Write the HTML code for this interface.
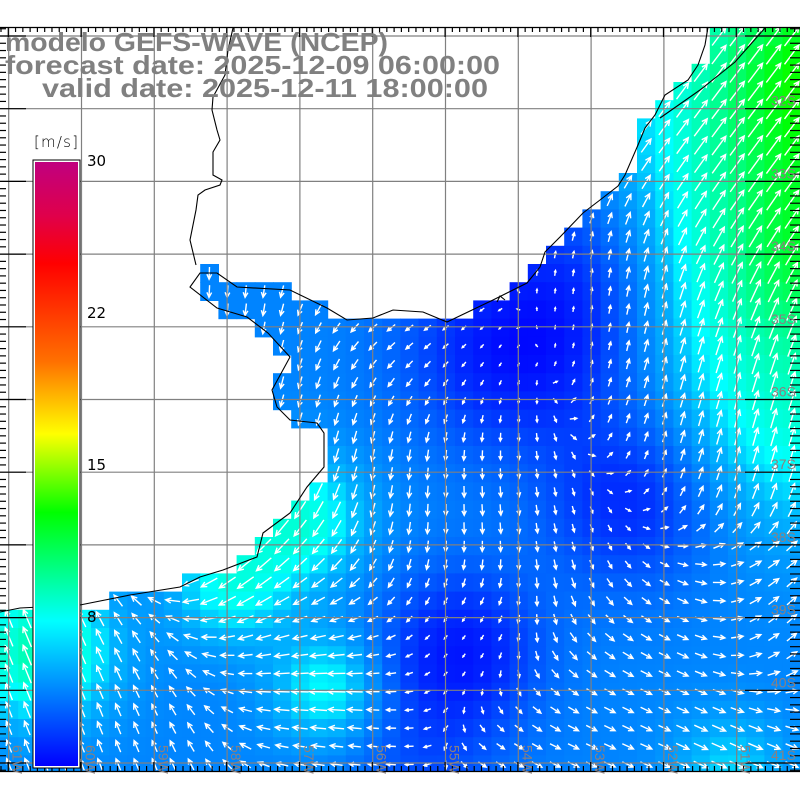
<!DOCTYPE html>
<html><head><meta charset="utf-8"><style>
html,body{margin:0;padding:0;background:#fff;}
svg{display:block;}
</style></head><body>
<svg id="s" width="800" height="800" xmlns="http://www.w3.org/2000/svg">
<defs>
<clipPath id="mc"><rect x="0" y="27" width="800" height="745"/></clipPath>
<linearGradient id="cb" x1="0" y1="0" x2="0" y2="1">
<stop offset="0" stop-color="#c0007f"/>
<stop offset="0.09" stop-color="#e0004a"/>
<stop offset="0.168" stop-color="#ff0000"/>
<stop offset="0.33" stop-color="#ff7000"/>
<stop offset="0.45" stop-color="#ffff00"/>
<stop offset="0.58" stop-color="#00ff00"/>
<stop offset="0.76" stop-color="#00ffff"/>
<stop offset="1" stop-color="#0000ff"/>
</linearGradient>
</defs>
<g id="field" clip-path="url(#mc)"></g>
<g id="arrows" clip-path="url(#mc)" stroke="#fff" stroke-width="1.4" fill="none"></g>
<g id="grid" stroke="#808080" stroke-width="1.2"></g>
<g id="coast" fill="none" stroke="#000" stroke-width="1.1"></g>
<g id="ticks" stroke="#000" stroke-width="1.2"></g>
<g id="labs" font-family="Liberation Sans, sans-serif" font-size="14" fill="#888"></g>
<rect x="33" y="160" width="47" height="608" fill="#fff" stroke="#000" stroke-width="1"/>
<rect x="35" y="162" width="43" height="604" fill="url(#cb)"/>
<g font-family="DejaVu Sans, sans-serif" font-size="15" fill="#000">
<text x="34" y="147" textLength="44" font-weight="200">[m/s]</text>
<text x="87" y="166">30</text>
<text x="87" y="318">22</text>
<text x="87" y="470">15</text>
<text x="87" y="622">8</text>
</g>
<g font-family="Liberation Sans, sans-serif" font-weight="bold" font-size="26" fill="#808080">
<text x="5" y="51" textLength="383" lengthAdjust="spacingAndGlyphs">modelo GEFS-WAVE (NCEP)</text>
<text x="5" y="74" textLength="495" lengthAdjust="spacingAndGlyphs">forecast date: 2025-12-09 06:00:00</text>
<text x="42" y="97" textLength="446" lengthAdjust="spacingAndGlyphs">valid date: 2025-12-11 18:00:00</text>
</g>
</svg>
<script>
(function(){
var NS="http://www.w3.org/2000/svg";
function el(t,a,p){var e=document.createElementNS(NS,t);for(var k in a)e.setAttribute(k,a[k]);p.appendChild(e);return e;}
var land=[[0,27],[708,27],[705,45],[698,65],[688,80],[665,95],[655,115],[645,128],[638,145],[625,175],[618,186],[600,200],[583,213],[560,237],[545,252],[540,267],[527,283],[493,300],[447,322],[423,312],[393,310],[373,318],[347,320],[327,308],[290,290],[237,287],[217,273],[200,273],[190,287],[217,308],[247,317],[268,333],[290,357],[272,390],[277,407],[290,420],[317,423],[324,433],[324,467],[307,487],[290,513],[263,533],[257,557],[223,570],[200,577],[180,587],[130,595],[80,605],[20,608],[0,612]];
function inPoly(x,y,p){var c=false;for(var i=0,j=p.length-1;i<p.length;j=i++){var xi=p[i][0],yi=p[i][1],xj=p[j][0],yj=p[j][1];if(((yi>y)!=(yj>y))&&(x<(xj-xi)*(y-yi)/(yj-yi)+xi))c=!c;}return c;}
var bumps=[[830,80,8.5,110],[810,260,3,60],[800,400,3.5,90],[720,250,1.5,80],[500,350,-3,70],[630,500,-3,60],[460,650,-3.5,55],[560,340,-1.5,60],[300,520,3.5,45],[230,585,3,40],[40,650,4.5,50],[330,690,3,40],[730,770,2,40],[420,760,-1.5,60],[580,250,-1.5,60]];
function sp(x,y){var s=4.6;for(var i=0;i<bumps.length;i++){var b=bumps[i],dx=x-b[0],dy=y-b[1];s+=b[2]*Math.exp(-(dx*dx+dy*dy)/(2*b[3]*b[3]));}return Math.max(0.3,s);}
var stops=[[0,[0,0,255]],[2,[0,48,255]],[4,[0,112,255]],[6,[0,180,255]],[7.3,[0,255,255]],[10,[0,255,140]],[12.6,[0,255,0]],[16.5,[255,255,0]],[25,[255,0,0]],[30,[192,0,127]]];
function col(v){for(var i=1;i<stops.length;i++){if(v<=stops[i][0]){var a=stops[i-1],b=stops[i],t=(v-a[0])/(b[0]-a[0]);var c=a[1].map(function(q,k){return Math.round(q+(b[1][k]-q)*t);});return "rgb("+c.join(",")+")";}}return "rgb(192,0,127)";}
var dirs=[[720,130,0.6,-0.8,120],[680,380,0.25,-1,90],[600,280,0,-1,50],[420,430,0,1,110],[520,560,0.15,1,70],[270,560,-0.75,0.65,80],[100,690,-0.4,-1,80],[330,670,-1,-0.2,60],[480,620,-0.8,0.3,40],[660,710,1,0.45,90],[790,630,0.6,-0.8,40],[420,340,-1,0.1,60]];
function dir(x,y){var ux=0,uy=0;for(var i=0;i<dirs.length;i++){var d=dirs[i],dx=x-d[0],dy=y-d[1],w=Math.exp(-(dx*dx+dy*dy)/(2*d[4]*d[4]));ux+=w*d[2];uy+=w*d[3];}var n=Math.hypot(ux,uy)||1;return [ux/n,uy/n];}
var F=document.getElementById("field"),A=document.getElementById("arrows");
var cs=18.2,x0=0,y0=27.4;
for(var r=-1;r<42;r++)for(var c=0;c<44;c++){
 var x=x0+c*cs,y=y0+r*cs,cx=x+cs/2,cy=y+cs/2;
 if(inPoly(cx,cy,land))continue;
 var v=sp(cx,cy);
 el("rect",{x:x.toFixed(1),y:y.toFixed(1),width:cs+0.6,height:cs+0.6,fill:col(v)},F);
 var d=dir(cx,cy),L=Math.min(24,v*2.2+2);
 var x1=cx-d[0]*L/2,y1=cy-d[1]*L/2,x2=cx+d[0]*L/2,y2=cy+d[1]*L/2;
 var h=Math.min(6,L*0.45),a=0.45;
 var hx1=x2-h*(d[0]*Math.cos(a)-d[1]*Math.sin(a)),hy1=y2-h*(d[1]*Math.cos(a)+d[0]*Math.sin(a));
 var hx2=x2-h*(d[0]*Math.cos(a)+d[1]*Math.sin(a)),hy2=y2-h*(d[1]*Math.cos(a)-d[0]*Math.sin(a));
 el("path",{d:"M"+x1.toFixed(1)+" "+y1.toFixed(1)+"L"+x2.toFixed(1)+" "+y2.toFixed(1)+"M"+hx1.toFixed(1)+" "+hy1.toFixed(1)+"L"+x2.toFixed(1)+" "+y2.toFixed(1)+"L"+hx2.toFixed(1)+" "+hy2.toFixed(1)},A);
}
var G=document.getElementById("grid");
for(var i=0;i<11;i++){var gx=8.7+i*72.8;el("line",{x1:gx,y1:27,x2:gx,y2:772},G);}
for(var i=0;i<11;i++){var gy=36+i*72.7;el("line",{x1:0,y1:gy,x2:800,y2:gy},G);}
var C=document.getElementById("coast");
var cl=land.slice(1).map(function(p){return p.join(",")}).join(" ");
el("polyline",{points:cl},C);
el("polyline",{points:"660,118 700,90 735,62 765,28"},C);
el("polyline",{points:"233,28 228,50 225,75 213,97 212,110 217,130 220,140 213,152 213,175 222,180 220,185 205,190 198,195 196,210 190,240 196,265"},C);
el("polyline",{points:"505,300 500,296 497,302"},C);
var T=document.getElementById("ticks");
el("line",{x1:0,y1:27.5,x2:800,y2:27.5},T);el("line",{x1:0,y1:771.5,x2:800,y2:771.5},T);
for(var x=1;x<800;x+=7.28){var maj=Math.abs(((x-8.7)/72.8)-Math.round((x-8.7)/72.8))<0.05;el("line",{x1:x,y1:772,x2:x,y2:maj?762:766},T);el("line",{x1:x,y1:27,x2:x,y2:maj?37:32},T);}
for(var y=36-72.7;y<772;y+=7.27){if(y<27)continue;var maj=Math.abs(((y-36)/72.7)-Math.round((y-36)/72.7))<0.05;el("line",{x1:0,y1:y,x2:maj?26:6,y2:y},T);el("line",{x1:800,y1:y,x2:maj?745:790,y2:y},T);}
var Lb=document.getElementById("labs");
var lats=["32S","33S","34S","35S","36S","37S","38S","39S","40S","41S"];
for(var i=0;i<lats.length;i++){var t=el("text",{x:771,y:(36+(i+1)*72.7-3).toFixed(1),fill:"#8a8080"},Lb);t.textContent=lats[i];}
var lons=["61W","60W","59W","58W","57W","56W","55W","54W","53W","52W","51W"];
for(var i=0;i<lons.length;i++){var gx=8.7+i*72.8+4;var t=el("text",{transform:"translate("+gx+",745) rotate(90)",fill:"#8a8080"},Lb);t.textContent=lons[i];}
})();
</script>
</body></html>
